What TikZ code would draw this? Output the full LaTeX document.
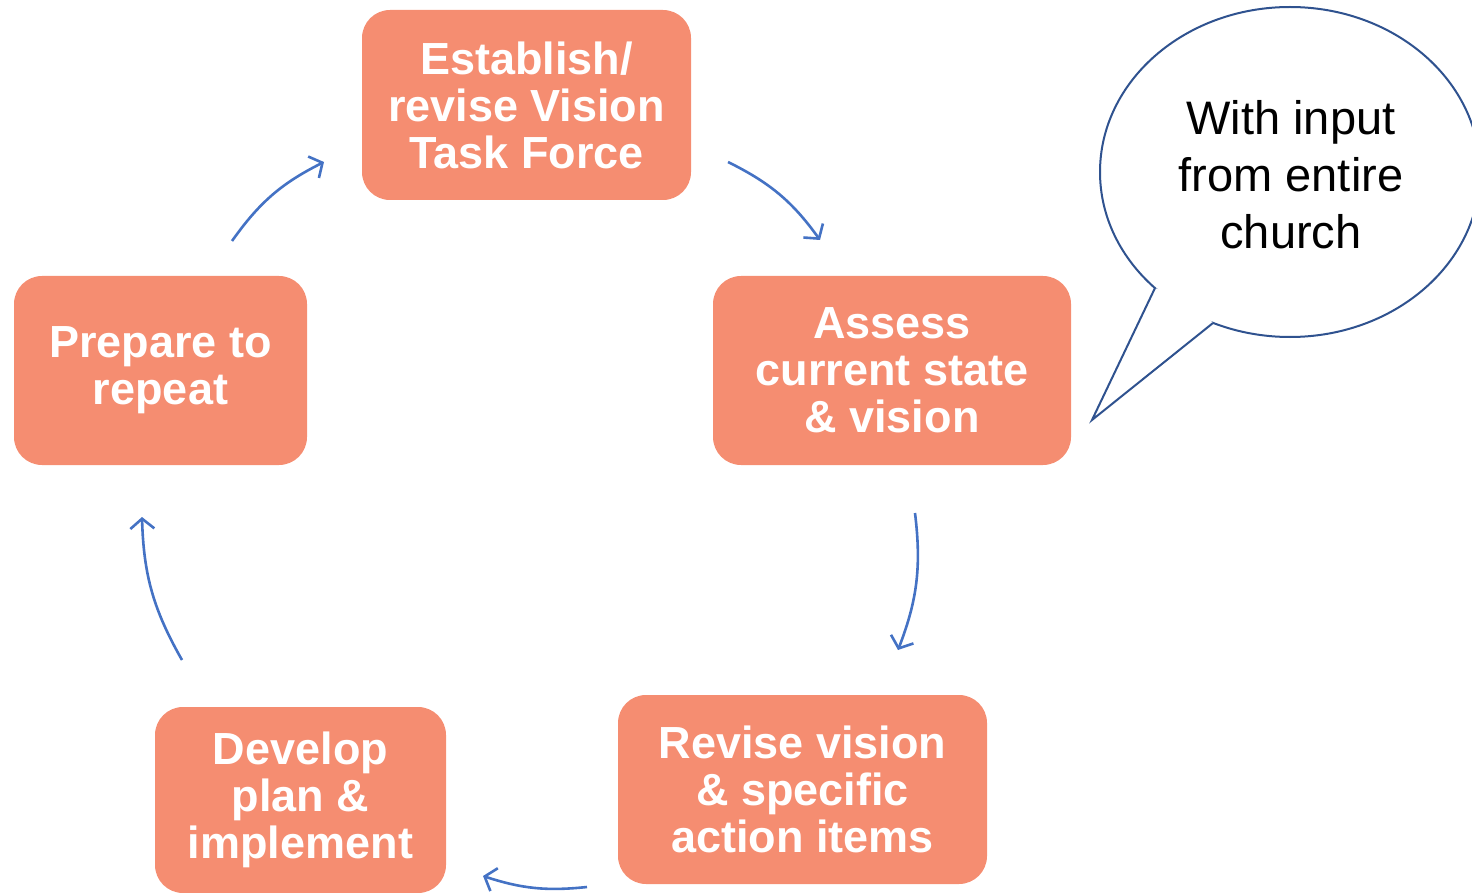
\documentclass[tikz,border=0pt]{standalone}
\usepackage{fontspec}
\setmainfont{Liberation Sans}
\usetikzlibrary{arrows.meta}
\definecolor{boxfill}{RGB}{245,141,113}
\definecolor{arrowblue}{RGB}{68,114,196}
\definecolor{bubbleline}{RGB}{47,82,143}
\begin{document}
\begin{tikzpicture}[x=1pt,y=-1pt,
  stepbox/.style={rectangle, rounded corners=28pt, fill=boxfill, text=white,
    font=\bfseries\fontsize{45}{47}\selectfont, align=center, inner sep=0pt},
  cyc/.style={draw=arrowblue, line width=2.6pt, bend left=14,
    -{Straight Barb[length=10pt,width=24pt,line width=2.6pt]}},
  bubble/.style={draw=bubbleline, line width=2pt, fill=white}]
\useasboundingbox (0,0) rectangle (1472,893);

\node[stepbox, minimum width=329pt, minimum height=190pt] (est) at (526.5,105) {Establish/\\revise Vision\\Task Force};
\node[stepbox, minimum width=358pt, minimum height=189pt] (ass) at (892,370.5) {Assess\\current state\\\& vision};
\node[stepbox, minimum width=369pt, minimum height=189pt] (rev) at (802.5,789.5) {Revise vision\\\& specific\\action items};
\node[stepbox, minimum width=291pt, minimum height=186pt] (dev) at (300.5,800) {Develop\\plan \&\\implement};
\node[stepbox, minimum width=293pt, minimum height=189pt] (pre) at (160.5,370.5) {Prepare to\\repeat};

\coordinate (a1s) at (728,162); \coordinate (a1e) at (820,240);
\coordinate (a2s) at (915,513); \coordinate (a2e) at (898,650);
\coordinate (a3s) at (587,887); \coordinate (a3e) at (483,876);
\coordinate (a4s) at (182,660); \coordinate (a4e) at (142,517);
\coordinate (a5s) at (232,241); \coordinate (a5e) at (324,162);
\draw[cyc] (a1s) to (a1e);
\draw[cyc] (a2s) to (a2e);
\draw[cyc, bend left=12] (a3s) to (a3e);
\draw[cyc] (a4s) to (a4e);
\draw[cyc] (a5s) to (a5e);

% speech bubble
\draw[bubble] (1290,172) ellipse [x radius=190, y radius=165];
\fill[white] (1155,288) -- (1092,420) -- (1213,323) -- (1190,300) -- cycle;
\draw[bubbleline, line width=2pt, line join=miter] (1155,288) -- (1092,420) -- (1213,323);
\node[font=\fontsize{47}{57}\selectfont, align=center, text=black] (bub) at (1291,175) {With input\\from entire\\church};
\end{tikzpicture}
\end{document}
